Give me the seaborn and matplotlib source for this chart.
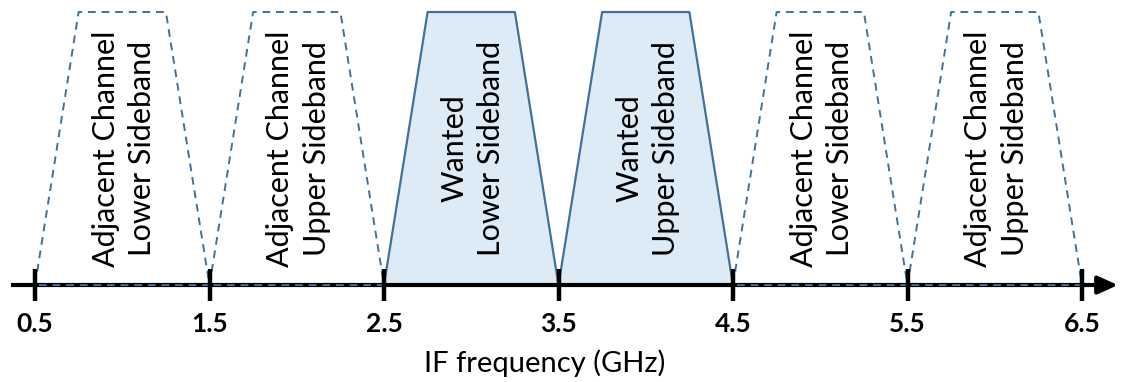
import numpy as np
import pandas as pd
import matplotlib
matplotlib.use("Agg")
import matplotlib.pyplot as plt
import seaborn as sns

# Band layout along the IF axis (GHz)
band_starts = [0.5, 1.5, 2.5, 3.5, 4.5, 5.5]
band_labels = [
    "Adjacent Channel\nLower Sideband",
    "Adjacent Channel\nUpper Sideband",
    "Wanted\nLower Sideband",
    "Wanted\nUpper Sideband",
    "Adjacent Channel\nLower Sideband",
    "Adjacent Channel\nUpper Sideband",
]
band_wanted = [False, False, True, True, False, False]
tick_values = [0.5, 1.5, 2.5, 3.5, 4.5, 5.5, 6.5]
tick_labels = ["0.5", "1.5", "2.5", "3.5", "4.5", "5.5", "6.5"]
axis_label = "IF frequency (GHz)"

BAND_WIDTH = 1.0
SHOULDER = 0.25
EDGE = "#41719C"
FILL = "#DDEBF7"

sns.set_theme(style="white")
plt.rcParams["font.family"] = ["Lato", "DejaVu Sans"]

fig = plt.figure(figsize=(11.21, 3.82), dpi=100)
ax = fig.add_axes([0, 0, 1, 1])
ax.set_xlim(0.2994, 6.7235)
ax.set_ylim(-0.355, 1.044)

# trapezoid vertices for every band
rows = []
for i, (s, w) in enumerate(zip(band_starts, band_wanted)):
    xs = [s, s + SHOULDER, s + BAND_WIDTH - SHOULDER, s + BAND_WIDTH, s]
    ys = [0, 1, 1, 0, 0]
    for k, (x, y) in enumerate(zip(xs, ys)):
        rows.append({"band": i, "order": k, "x": x, "y": y, "wanted": w})
df = pd.DataFrame(rows)

for i, w in enumerate(band_wanted):
    sub = df[df["band"] == i]
    if w:
        ax.fill(sub["x"], sub["y"], color=FILL, zorder=1, lw=0)

sns.lineplot(data=df[df["wanted"]], x="x", y="y", units="band", estimator=None,
             sort=False, color=EDGE, lw=1.6, ax=ax, zorder=2)
sns.lineplot(data=df[~df["wanted"]], x="x", y="y", units="band", estimator=None,
             sort=False, color=EDGE, lw=1.4, ax=ax, zorder=4,
             linestyle=(0, (4, 3)))

# axis line with arrow head
ax.plot([0.3625, 6.62], [0, 0], color="black", lw=3, zorder=3, solid_capstyle="butt")
ax.annotate("", xy=(6.706, 0), xytext=(6.6, 0),
            arrowprops=dict(arrowstyle="-|>,head_length=1.0,head_width=0.45",
                            color="black", lw=3, shrinkA=0, shrinkB=0), zorder=3)

# ticks and tick labels
ax.vlines(tick_values, -0.059, 0.059, color="black", lw=3.2, zorder=5)
for v, t in zip(tick_values, tick_labels):
    ax.text(v, -0.143, t, ha="center", va="center", fontsize=19,
            fontweight="bold", color="black")

ax.text(3.42, -0.286, axis_label, ha="center", va="center", fontsize=21,
        color="black")

# band labels
for s, lab in zip(band_starts, band_labels):
    ax.text(s + BAND_WIDTH / 2 + 0.01, 0.50, lab, rotation=90, ha="center",
            va="center", multialignment="center", fontsize=22,
            color="black", linespacing=1.35)

ax.set_axis_off()
if ax.get_legend():
    ax.get_legend().remove()

fig.savefig("out.png", dpi=100)
